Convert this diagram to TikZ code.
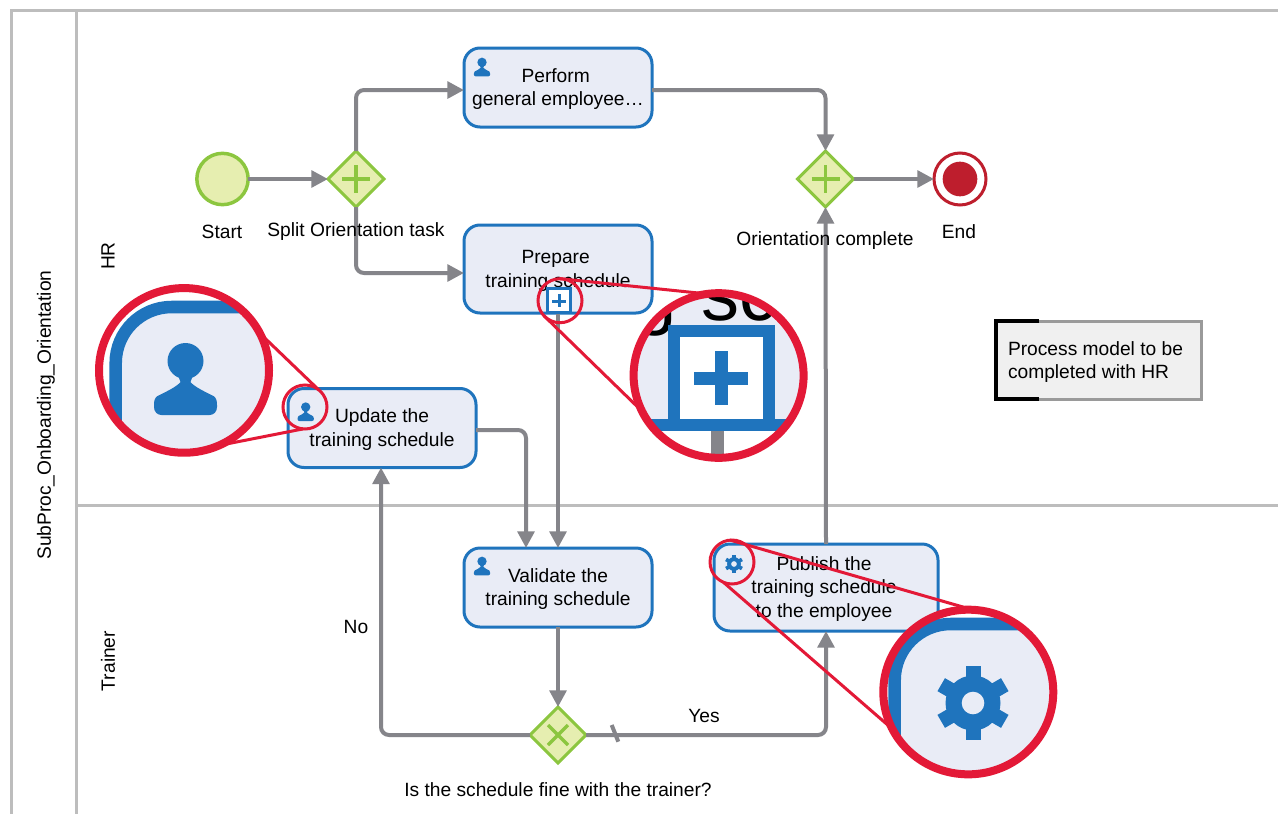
\documentclass[tikz,border=0pt]{standalone}
\usepackage{fontspec}
\setmainfont{Liberation Sans}
\usetikzlibrary{shapes.geometric,arrows.meta}
\definecolor{taskblue}{HTML}{1F74BD}
\definecolor{taskfill}{HTML}{E9ECF6}
\definecolor{gwgreen}{HTML}{8CC63F}
\definecolor{gwfill}{HTML}{E6EEB0}
\definecolor{flowgray}{HTML}{85858A}
\definecolor{poolgray}{HTML}{BDBDBD}
\definecolor{lensred}{HTML}{E31937}
\definecolor{endred}{HTML}{BE1E2D}
\definecolor{notegray}{HTML}{9A9A9A}
\definecolor{notefill}{HTML}{F0F0F0}
\newcommand\tasktext[1]{\raisebox{0pt}[\dimexpr\height+2.4pt\relax][\depth]{\setlength{\tabcolsep}{0pt}\begin{tabular}{c}#1\end{tabular}}}
\tikzset{
  x=0.75pt,y=-0.75pt,
  every node/.style={font=\fontsize{14.4pt}{17.6pt}\selectfont,inner sep=0pt,outer sep=0pt},
  task/.style={draw=taskblue,fill=taskfill,line width=2.25pt,rounded corners=12pt,align=center,minimum width=141pt,minimum height=59.25pt},
  gateway/.style={diamond,aspect=1,draw=gwgreen,fill=gwfill,line width=2.25pt,minimum size=42pt},
  gwmark/.style={draw=gwgreen,line width=2.5pt},
  flow/.style={draw=flowgray,line width=3pt,rounded corners=6pt,-{Triangle[length=12.5pt,width=12.5pt]}},
  plainflow/.style={draw=flowgray,line width=3pt},
  pool/.style={draw=poolgray,line width=2.25pt},
  label/.style={text=black},
  lenssmall/.style={circle,draw=lensred,line width=2.25pt,minimum size=33pt},
  lensbig/.style={ellipse,draw=lensred,line width=6pt,minimum width=127.5pt,minimum height=123.5pt},
  lensline/.style={draw=lensred,line width=2.25pt},
  user icon/.pic={
    \fill[taskblue] (0,-18) circle (18);
    \fill[taskblue] (-9,-8) -- (9,-8) -- (5,3) .. controls (9,8) and (20,13) .. (28,17)
      .. controls (31,19) and (31.5,22) .. (31.5,26) -- (31.5,28)
      .. controls (31.5,33) and (28,36) .. (24,36) -- (-24,36)
      .. controls (-28,36) and (-31.5,33) .. (-31.5,28) -- (-31.5,26)
      .. controls (-31.5,22) and (-31,19) .. (-28,17)
      .. controls (-20,13) and (-9,8) .. (-5,3) -- cycle;
  },
  gear icon/.pic={
    \fill[taskblue] (0,0) circle (27.5);
    \foreach \a in {0,60,120}{\fill[taskblue,rotate=\a] (-7.5,-36.7) rectangle (7.5,36.7);}
    \fill[taskfill] (0,0) circle (11.3);
  },
}
\begin{document}
\begin{tikzpicture}
\useasboundingbox (0,0) rectangle (1278,814);
\fill[white] (0,0) rectangle (1278,814);
% pool
\draw[pool] (1278,10) -- (11,10) -- (11,814);
\draw[pool] (76,10) -- (76,814);
\draw[pool] (76,505) -- (1278,505);
\node[label,rotate=90] (poolname) at (46,415) {SubProc\_Onboarding\_Orientation};
\node[label,rotate=90] (hr) at (108,256) {HR};
\node[label,rotate=90] (trainer) at (108,661) {Trainer};
% nodes
\node[circle,draw=gwgreen,fill=gwfill,line width=2.6pt,minimum size=38.5pt] (start) at (222.5,179) {};
\node[gateway] (gwa) at (356,179) {};
\node[gateway] (gwb) at (825.5,179) {};
\node[gateway] (gwx) at (558,735) {};
\node[circle,draw=endred,fill=white,line width=2.25pt,minimum size=39pt] (endev) at (960,179) {};
\node[circle,fill=endred,minimum size=26pt] (endcore) at (960,179) {};
\node[task] (perform) at (558,87.5) {\tasktext{Perform\hspace*{3.5pt}\\general employee…}};
\node[task,minimum height=66pt] (prepare) at (558,269) {\tasktext{Prepare\hspace*{3.5pt}\\training schedule}};
\node[task] (update) at (382,428) {\tasktext{Update the\\training schedule}};
\node[task] (validate) at (558,587.5) {\tasktext{Validate the\\training schedule}};
\node[task,minimum width=168pt,minimum height=65.25pt] (publish) at (826,587.5) {\hspace*{-3pt}\tasktext{Publish the\\training schedule\\to the employee}};
% flows
\path[flow] (start) -- (gwa);
\path[flow] (gwa.north) |- ([yshift=-1.9pt]perform.west);
\path[flow] (gwa.south) |- ([yshift=-3pt]prepare.west);
\path[flow] (perform.east) ++(0,-1.9pt) -| (gwb.north);
\path[flow] (gwb) -- (endev);
\path[flow] (publish.north) -- (gwb.south);
\path[flow] (prepare.south) -- (validate.north);
\path[flow] ([yshift=-1.5pt]update.east) -| ([xshift=-24pt]validate.north);
\path[flow] (validate.south) -- (gwx.north);
\path[flow] (gwx.west) -| ([xshift=-0.75pt]update.south);
\path[flow] (gwx.east) -| (publish.south);
\coordinate (slasha) at (611.7,725);
\coordinate (slashb) at (618.3,741.7);
\draw[plainflow] (slasha) -- (slashb);
% gateway marks
\draw[gwmark] (gwa.center) ++(-14,0) -- ++(28,0) (gwa.center) ++(0,-14) -- ++(0,28);
\draw[gwmark] (gwb.center) ++(-14,0) -- ++(28,0) (gwb.center) ++(0,-14) -- ++(0,28);
\draw[gwmark] (gwx.center) ++(-10,-10) -- ++(20,20) (gwx.center) ++(10,-10) -- ++(-20,20);
% icons
\pic[scale=.26] at (482,67) {user icon};
\pic[scale=.26] at (305.7,411.7) {user icon};
\pic[scale=.26] at (482,566) {user icon};
\pic[scale=.25] at (734,564) {gear icon};
\node[draw=taskblue,fill=white,line width=2.25pt,minimum size=17.5pt] (marker) at (559,300.5) {};
\fill[taskblue] (552.3,299.5) rectangle (565.7,302.5);
\fill[taskblue] (557.5,293.8) rectangle (560.5,307.2);
% labels
\node[label] (lstart) at (222,232) {Start};
\node[label] (lsplit) at (356,232) {Split Orientation task};
\node[label] (lcomplete) at (825,241) {Orientation complete};
\node[label] (lend) at (959,232) {End};
\node[label] (lno) at (356,627) {No};
\node[label] (lyes) at (704,716) {Yes};
\node[label] (lquestion) at (558,790) {Is the schedule fine with the trainer?};
% note
\node[draw=notegray,fill=notefill,line width=2.25pt,minimum width=154.5pt,minimum height=58.5pt] (note) at (1098,360) {};
\node[anchor=west,align=left] (notetext) at (1008,362) {Process model to be\\completed with HR};
\draw[black,line width=3pt] ([xshift=33pt]note.north west) -- ([xshift=1pt]note.north west) -- ([xshift=1pt]note.south west) -- ([xshift=33pt]note.south west);
% lens A: user
\fill[white] (184,370.4) ellipse [x radius=85, y radius=82.3];
\begin{scope}
\clip (184,370.4) ellipse [x radius=85, y radius=82.3];
\draw[taskblue,fill=taskfill,line width=9.4pt,rounded corners=42pt] (115.7,307) rectangle (500,700);
\pic at (185.5,379) {user icon};
\end{scope}
% lens B: marker
\fill[white] (718.6,375.5) ellipse [x radius=85, y radius=82.3];
\begin{scope}
\clip (718.6,375.5) ellipse [x radius=85, y radius=82.3];
\fill[taskfill] (600,280) rectangle (840,425);
\node[font=\fontsize{57pt}{57pt}\selectfont,anchor=base east] (bigg) at (677,320) {g};
\node[font=\fontsize{57pt}{57pt}\selectfont,anchor=base west] (bigs) at (701,320) {sc};
\fill[flowgray] (711,425) rectangle (724,470);
\draw[taskblue,line width=9.4pt] (600,425) -- (840,425);
\draw[taskblue,fill=white,line width=9.4pt] (674,331) rectangle (769,425);
\fill[taskblue] (694,372) rectangle (748,384.5);
\fill[taskblue] (715,351.3) rectangle (727.5,405.3);
\end{scope}
% lens C: gear
\fill[white] (968.3,692) ellipse [x radius=85, y radius=82.3];
\begin{scope}
\clip (968.3,692) ellipse [x radius=85, y radius=82.3];
\draw[taskblue,fill=taskfill,line width=9.4pt,rounded corners=42pt] (894.7,624) rectangle (1300,1000);
\pic at (973,703) {gear icon};
\end{scope}
% lens rings
\node[lenssmall] (sa) at (305,407) {};
\node[lenssmall] (sb) at (560,300.7) {};
\node[lenssmall] (sc) at (732,562) {};
\node[lensbig] (ba) at (184,370.4) {};
\node[lensbig] (bb) at (718.6,375.5) {};
\node[lensbig] (bc) at (968.3,692) {};
\draw[lensline] (ba.26) -- (sa.52);
\draw[lensline] (ba.-65) -- (sa.-95);
\draw[lensline] (bb.98) -- (sb.90);
\draw[lensline] (bb.205.5) -- (sb.223);
\draw[lensline] (bc.87) -- (sc.95);
\draw[lensline] (bc.206) -- (sc.247);
\end{tikzpicture}
\end{document}
